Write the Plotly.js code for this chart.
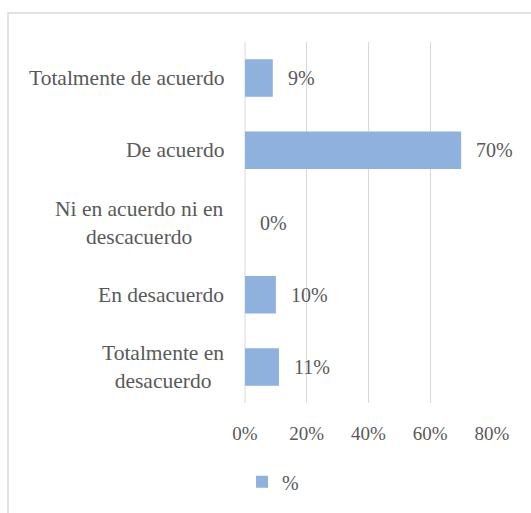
<!DOCTYPE html>
<html>
<head>
<meta charset="utf-8">
<script src="https://cdn.plot.ly/plotly-3.0.1.min.js"></script>
<style>html,body{margin:0;padding:0;background:#fff;}#chart{width:531px;height:513px;}</style>
</head>
<body>
<div id="chart"></div>
<script>
// Data (top to bottom)
const categories = ["Totalmente de acuerdo", "De acuerdo", "Ni en acuerdo ni en descacuerdo", "En desacuerdo", "Totalmente en desacuerdo"];
const categoryLabels = ["Totalmente de acuerdo", "De acuerdo", "Ni en acuerdo ni en<br>descacuerdo", "En desacuerdo", "Totalmente en<br>desacuerdo"];
const values = [0.09, 0.70, 0.00, 0.10, 0.11];
const valueLabels = ["9%", "70%", "0%", "10%", "11%"];
const seriesName = "%";
const xTickVals = [0, 0.2, 0.4, 0.6, 0.8];
const xTickText = ["0%", "20%", "40%", "60%", "80%"];

const textColor = "#595959";
const fontFam = "'Liberation Serif', 'Times New Roman', serif";

const trace = {
  type: "bar",
  orientation: "h",
  y: categories,
  x: values,
  name: seriesName,
  marker: {color: "#8fb1dd", line: {width: 0}},
  hoverinfo: "skip"
};

const annotations = [];
categories.forEach((c, i) => {
  annotations.push({
    xref: "paper", yref: "y", x: 0, y: c,
    xanchor: "right", yanchor: "middle", xshift: -19,
    text: categoryLabels[i], align: "center", showarrow: false,
    font: {family: fontFam, size: 21.5, color: textColor}
  });
  annotations.push({
    xref: "x", yref: "y", x: values[i], y: c,
    xanchor: "left", yanchor: "middle", xshift: 13,
    text: valueLabels[i], showarrow: false,
    font: {family: fontFam, size: 20, color: textColor}
  });
});

const layout = {
  width: 531, height: 513,
  margin: {l: 245, r: 39, t: 42, b: 103},
  paper_bgcolor: "#fff", plot_bgcolor: "#fff",
  font: {family: fontFam, color: textColor},
  bargap: 0.48,
  showlegend: true,
  legend: {
    orientation: "h", x: -0.012, xanchor: "left", y: -0.218, yanchor: "middle",
    font: {family: fontFam, size: 20, color: textColor},
    bgcolor: "rgba(0,0,0,0)"
  },
  xaxis: {
    range: [0, 0.8], tickvals: xTickVals, ticktext: xTickText,
    showgrid: true, gridcolor: "#d9d9d9", gridwidth: 1,
    zeroline: false, showline: false, ticks: "",
    ticklabelstandoff: 17,
    tickfont: {family: fontFam, size: 19, color: textColor},
    fixedrange: true
  },
  yaxis: {
    type: "category", autorange: "reversed",
    showticklabels: false, showgrid: false, zeroline: false, showline: false, ticks: "",
    fixedrange: true
  },
  shapes: [
    {type: "line", xref: "paper", yref: "paper", x0: 0, x1: 0, y0: 0, y1: 1,
     line: {color: "#d9d9d9", width: 1}, layer: "below"},
    {type: "rect", xref: "paper", yref: "paper", x0: -0.9595, x1: 1.6, y0: -1, y1: 1.0805,
     line: {color: "#d9d9d9", width: 1.5}, fillcolor: "rgba(0,0,0,0)", layer: "below"}
  ],
  annotations: annotations
};

Plotly.newPlot("chart", [trace], layout, {displayModeBar: false, staticPlot: true});
</script>
</body>
</html>
